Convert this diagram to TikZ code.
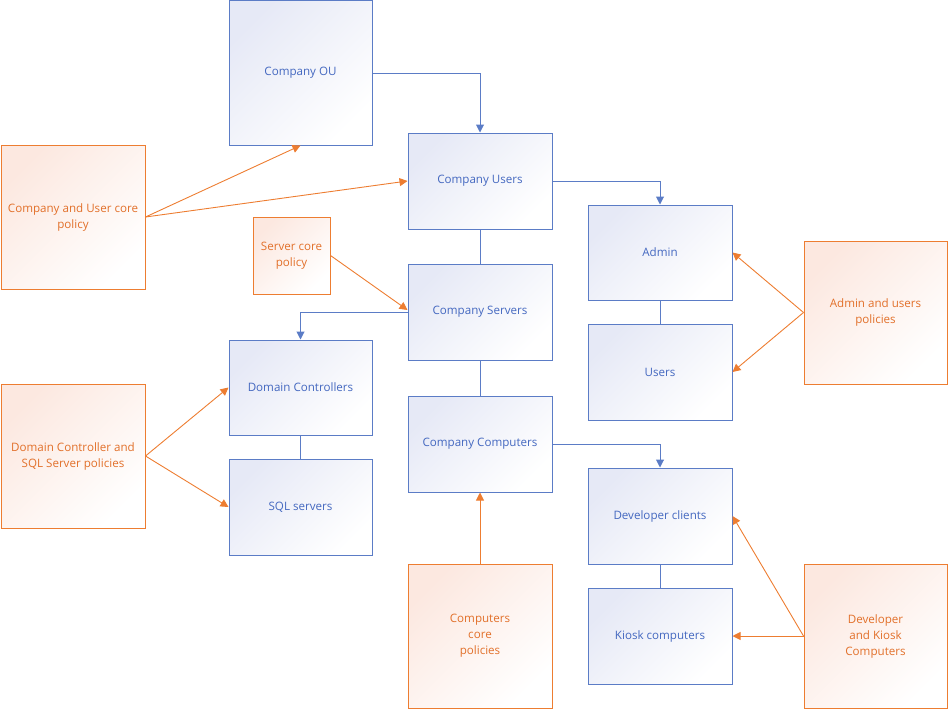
\documentclass[tikz,border=0pt]{standalone}
\usepackage{fontspec}
\setmainfont{Open Sans}
\usetikzlibrary{arrows.meta}
\definecolor{bstroke}{HTML}{5B7CC6}
\definecolor{btext}{HTML}{4468C0}
\definecolor{bfill}{HTML}{E6E9F6}
\definecolor{ostroke}{HTML}{ED7D31}
\definecolor{otext}{HTML}{E2702A}
\definecolor{ofill}{HTML}{FCE8E0}
\tikzset{
  bbox/.style={draw=bstroke, line width=1pt, top color=bfill, bottom color=white, shading angle=45,
    text=btext, font=\fontsize{11.6}{16}\selectfont, align=center, inner sep=0pt},
  obox/.style={draw=ostroke, line width=1pt, top color=ofill, bottom color=white, shading angle=45,
    text=otext, font=\fontsize{11.6}{16}\selectfont, align=center, inner sep=0pt},
  bline/.style={draw=bstroke, line width=1pt},
  barrow/.style={bline, -{Triangle[length=8pt,width=8pt]}},
  oarrow/.style={draw=ostroke, line width=0.9pt, -{Triangle[length=8pt,width=8pt]}},
}
\begin{document}
\begin{tikzpicture}[x=1pt,y=-1pt]
\useasboundingbox (0,0) rectangle (949,709);
% blue boxes
\node[bbox, minimum width=143pt, minimum height=144pt] (ou) at (300.5,73) {Company OU};
\node[bbox, minimum width=144pt, minimum height=96pt] (cusers) at (480,181) {Company Users};
\node[bbox, minimum width=144pt, minimum height=96pt] (cservers) at (480,312) {Company Servers};
\node[bbox, minimum width=144pt, minimum height=96pt] (ccomp) at (480,444) {Company Computers};
\node[bbox, minimum width=144pt, minimum height=95pt] (admin) at (660,252.5) {Admin};
\node[bbox, minimum width=144pt, minimum height=96pt] (users) at (660,372) {Users};
\node[bbox, minimum width=143pt, minimum height=95pt] (dc) at (300.5,387.5) {Domain Controllers};
\node[bbox, minimum width=143pt, minimum height=96pt] (sql) at (300.5,507) {SQL servers};
\node[bbox, minimum width=144pt, minimum height=96pt] (dev) at (660,516) {Developer clients};
\node[bbox, minimum width=144pt, minimum height=96pt] (kiosk) at (660,636) {Kiosk computers};
% orange boxes
\node[obox, minimum width=144pt, minimum height=144pt] (pcore) at (73,217) {Company and User core\\policy};
\node[obox, minimum width=77pt, minimum height=77pt] (pserver) at (291.5,255.5) {Server core\\policy};
\node[obox, minimum width=144pt, minimum height=144pt] (pdc) at (73,456) {Domain Controller and\\SQL Server policies};
\node[obox, minimum width=143pt, minimum height=143pt] (padmin) at (875.5,312.5) {Admin and users\\policies};
\node[obox, minimum width=144pt, minimum height=144pt] (pcomp) at (480,636) {Computers\\core\\policies};
\node[obox, minimum width=143pt, minimum height=144pt] (pdev) at (875.5,636) {Developer\\and Kiosk\\Computers};
% blue connectors
\draw[barrow] (ou.east) -| (cusers.north);
\draw[barrow] (cusers.east) -| (admin.north);
\draw[bline] (cusers.south) -- (cservers.north);
\draw[barrow] (cservers.west) -| (dc.north);
\draw[bline] (cservers.south) -- (ccomp.north);
\draw[barrow] (ccomp.east) -| (dev.north);
\draw[bline] (admin.south) -- (users.north);
\draw[bline] (dc.south) -- (sql.north);
\draw[bline] (dev.south) -- (kiosk.north);
% orange connectors
\draw[oarrow] (pcore.east) -- (ou.south);
\draw[oarrow] (pcore.east) -- (cusers.west);
\draw[oarrow] (pserver.east) -- ([yshift=2pt]cservers.west);
\draw[oarrow] (pdc.east) -- (dc.west);
\draw[oarrow] (pdc.east) -- (sql.west);
\draw[oarrow] (padmin.west) -- (admin.east);
\draw[oarrow] (padmin.west) -- (users.east);
\draw[oarrow] (pcomp.north) -- (ccomp.south);
\draw[oarrow] (pdev.west) -- (dev.east);
\draw[oarrow] (pdev.west) -- (kiosk.east);
\end{tikzpicture}
\end{document}
